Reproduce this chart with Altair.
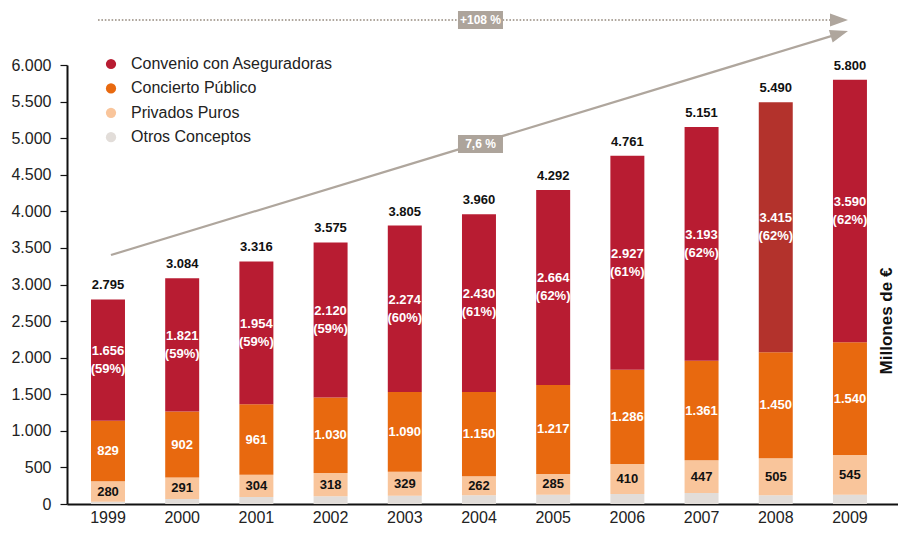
import altair as alt
import pandas as pd

years = ['1999', '2000', '2001', '2002', '2003', '2004', '2005', '2006', '2007', '2008', '2009']
convenio = [1656, 1821, 1954, 2120, 2274, 2430, 2664, 2927, 3193, 3415, 3590]
concierto = [829, 902, 961, 1030, 1090, 1150, 1217, 1286, 1361, 1450, 1540]
privados = [280, 291, 304, 318, 329, 262, 285, 410, 447, 505, 545]
otros = [30, 70, 97, 107, 112, 118, 126, 138, 150, 120, 125]
totals = [2795, 3084, 3316, 3575, 3805, 3960, 4292, 4761, 5151, 5490, 5800]
pct_convenio = [59, 59, 59, 59, 60, 61, 62, 61, 62, 62, 62]

series = ['Convenio con Aseguradoras', 'Concierto Público', 'Privados Puros', 'Otros Conceptos']
colors = ['#B81C32', '#E8690F', '#F9C59B', '#E2DDD9']
highlight_color = '#B3322C'

# annotation values (data units: year position, millions)
growth_total = '+108 %'
growth_cagr = '7,6 %'
trend_start = (1999.04, 3403)
trend_end = (2008.857, 6429)
dotted_y = 6615
dotted_start = 1998.865
dotted_end = 2008.73
head_x = 2008.852
label_x = 2004.02
cagr_label_y = 4920

def fmt(v):
    return f"{v:,}".replace(",", ".")

rows = []
for i, y in enumerate(years):
    vals = [otros[i], privados[i], concierto[i], convenio[i]]
    names = [series[3], series[2], series[1], series[0]]
    lo = 0
    for n, v in zip(names, vals):
        rows.append(dict(year=y, serie=n, lo=lo, hi=lo + v, mid=lo + v / 2, val=fmt(v),
                         pct=f"({pct_convenio[i]}%)"))
        lo += v
df = pd.DataFrame(rows)
tot_df = pd.DataFrame(dict(year=years, total=totals, label=[fmt(t) for t in totals]))

FONT = 'Liberation Sans'
yscale = alt.Scale(domain=[0, 6000], nice=False, zero=True)
xband = alt.Scale(paddingInner=0.542, paddingOuter=0.371, align=0.436)

X_AXIS = alt.Axis(title=None, labelAngle=0, labelFontSize=16, labelFont=FONT,
                  labelColor='#222', ticks=False, tickSize=0, labelPadding=5,
                  domain=True, domainColor='#111', domainWidth=2)
Y_AXIS = alt.Axis(title=None, values=list(range(0, 6001, 500)), grid=False,
                  labelFontSize=16, labelFont=FONT, labelColor='#222',
                  labelOverlap=False, ticks=True,
                  tickSize=7, tickColor='#111', tickWidth=1.2, labelPadding=9,
                  domain=True, domainColor='#111', domainWidth=2,
                  labelExpr="replace(format(datum.value, ','), ',', '.')")

bars = alt.Chart(df).mark_bar().encode(
    x=alt.X('year:N', scale=xband, sort=years, axis=X_AXIS),
    y=alt.Y('lo:Q', scale=yscale, axis=Y_AXIS),
    y2='hi:Q',
    color=alt.condition(
        f"datum.year == '2008' && datum.serie == '{series[0]}'",
        alt.value(highlight_color),
        alt.Color('serie:N', scale=alt.Scale(domain=series, range=colors),
                  legend=alt.Legend(orient='none', legendX=36, legendY=-9, title=None,
                                    symbolType='circle', symbolSize=105,
                                    symbolStrokeWidth=0, symbolOpacity=1,
                                    labelFontSize=16, labelFont=FONT, labelColor='#222',
                                    labelLimit=500, labelOffset=12, rowPadding=8.4, padding=0))
    ),
)

def txt(data, color, dy=0, field='val', yfield='mid'):
    return alt.Chart(data).mark_text(font=FONT, fontWeight='bold', fontSize=13,
                                     color=color, dy=dy, baseline='middle').encode(
        x=alt.X('year:N', scale=xband, sort=years, axis=X_AXIS),
        y=alt.Y(f'{yfield}:Q', scale=yscale, axis=Y_AXIS),
        text=f'{field}:N')

conv = df[df.serie == series[0]]
conc = df[df.serie == series[1]]
priv = df[df.serie == series[2]]

t_conv = txt(conv, 'white', dy=-9)
t_conv_pct = txt(conv, 'white', dy=9, field='pct')
t_conc = txt(conc, 'white')
t_priv = txt(priv, '#111')
t_tot = txt(tot_df, '#111', dy=-14, field='label', yfield='total')

unit = alt.Chart(pd.DataFrame({'t': ['Millones de €']})).mark_text(
    font=FONT, fontWeight='bold', fontSize=17, angle=270, color='#111',
    baseline='middle', align='center').encode(
    x=alt.value(820), y=alt.value(256), text='t:N')

base = alt.layer(bars, t_conv, t_conv_pct, t_conc, t_priv, t_tot, unit)

# annotations, on a quantitative year scale
xq = alt.Scale(domain=[1998.4474, 2009.647], nice=False, zero=False)
ANN = '#AFA69D'

def qx(f='x:Q'):
    return alt.X(f, scale=xq, axis=None)

def qy(f='y:Q'):
    return alt.Y(f, scale=yscale, axis=Y_AXIS)

dotted_df = pd.DataFrame(dict(x=[dotted_start], x2=[dotted_end], y=[dotted_y]))
dotted = alt.Chart(dotted_df).mark_rule(color=ANN, strokeWidth=2.2, strokeDash=[1.6, 1.8]).encode(
    x=qx(), x2='x2:Q', y=qy())

trend_df = pd.DataFrame(dict(x=[trend_start[0]], x2=[trend_end[0]],
                             y=[trend_start[1]], y2=[trend_end[1]]))
trend = alt.Chart(trend_df).mark_rule(color=ANN, strokeWidth=2.2).encode(
    x=qx(), x2='x2:Q', y=qy(), y2='y2:Q')

tri = "M-1,-0.72 L1,0 L-1,0.72 Z"
heads_df = pd.DataFrame(dict(x=[head_x, trend_end[0]], y=[dotted_y, trend_end[1]], a=[0, 343.1]))
heads = alt.Chart(heads_df).mark_point(shape=tri, filled=True, opacity=1, color=ANN,
                                       size=324, strokeWidth=0).encode(
    x=qx(), y=qy(), angle=alt.Angle('a:Q', scale=None))

box = "M-1,-0.4 L1,-0.4 L1,0.4 L-1,0.4 Z"
lab_df = pd.DataFrame(dict(x=[label_x, label_x], y=[dotted_y, cagr_label_y], t=[growth_total, growth_cagr]))
boxes = alt.Chart(lab_df).mark_point(shape=box, filled=True, opacity=1, color='#ADA49B',
                                     size=2025, strokeWidth=0).encode(x=qx(), y=qy())
labs = alt.Chart(lab_df).mark_text(font=FONT, fontWeight='bold', fontSize=12, color='white',
                                   baseline='middle', align='center').encode(
    x=qx(), y=qy(), text='t:N')

ann = alt.layer(dotted, trend, heads, boxes, labs)

chart = alt.layer(base, ann).resolve_scale(x='independent').properties(
    width=831, height=439,
    autosize=alt.AutoSizeParams(type='none'),
    padding={'left': 59, 'top': 57, 'right': 0, 'bottom': 22},
).configure_view(stroke=None)

chart.save("out.html", embed_options={"renderer": "svg", "actions": False})
